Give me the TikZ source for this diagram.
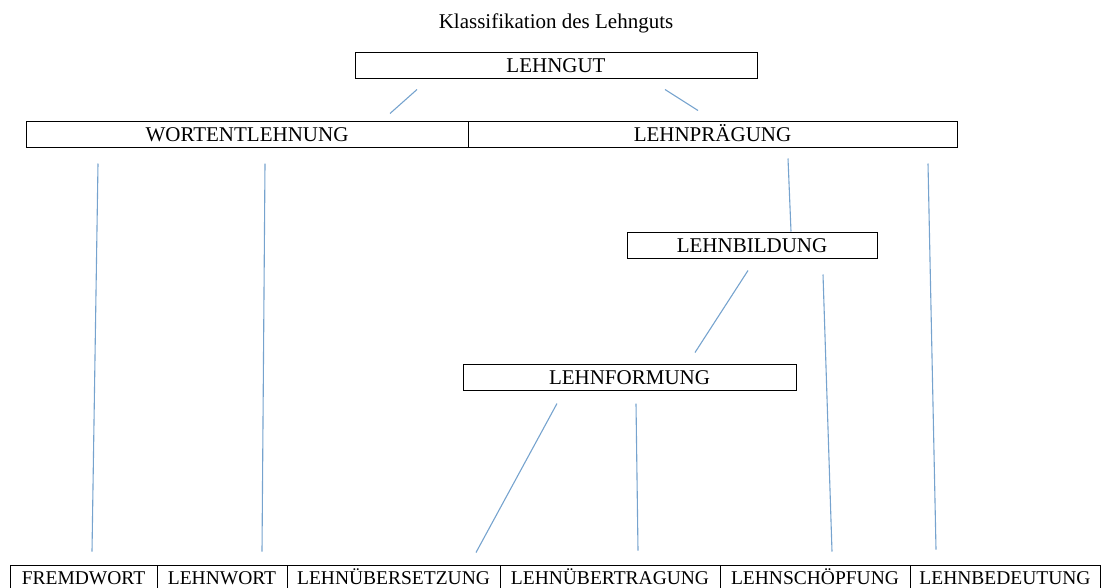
\documentclass[tikz,border=0pt]{standalone}
\usepackage{fontspec}
\setmainfont{Liberation Serif}
\usepackage{tikz}
\usepackage{xcolor}
\definecolor{linkblue}{RGB}{118,163,206}

\tikzset{
  box/.style={draw=black, line width=1pt, rectangle, inner sep=0pt,
    minimum height=26pt, text height=14pt, text depth=0pt,
    font=\fontsize{21}{24}\selectfont},
  cell/.style={box, text height=13pt, font=\fontsize{19.5}{22}\selectfont},
  link/.style={draw=linkblue, line width=1.1pt}
}

\begin{document}
\begin{tikzpicture}[x=1pt, y=-1pt]
        \useasboundingbox (0,0) rectangle (1105,587);
        % Title and upper levels
        \node[font=\fontsize{21}{24}\selectfont, text height=14pt, text depth=0pt, inner sep=0pt] (title) at (556,21) {Klassifikation des Lehnguts};
        \node[box, minimum width=402pt] (lehngut) at (556,65) {LEHNGUT};
        \node[box, minimum width=442pt] (wortentlehnung) at (247,134) {WORTENTLEHNUNG};
        \node[box, minimum width=489pt] (lehnpraegung) at (712.5,134) {LEHNPRÄGUNG};
        \node[box, minimum width=250pt] (lehnbildung) at (752,245) {LEHNBILDUNG};
        \node[box, minimum width=333pt] (lehnformung) at (629.5,377) {LEHNFORMUNG};
        % Bottom row
        \node[cell, minimum width=147pt] (fremdwort) at (83.5,578) {FREMDWORT};
        \node[cell, minimum width=130pt] (lehnwort) at (222,578) {LEHNWORT};
        \node[cell, minimum width=213pt] (lehnuebersetzung) at (393.5,578) {LEHNÜBERSETZUNG};
        \node[cell, minimum width=220pt] (lehnuebertragung) at (610,578) {LEHNÜBERTRAGUNG};
        \node[cell, minimum width=190pt] (lehnschoepfung) at (815,578) {LEHNSCHÖPFUNG};
        \node[cell, minimum width=190pt] (lehnbedeutung) at (1005,578) {LEHNBEDEUTUNG};
        % Connectors
        \draw[link] ([shift={(-139,11)}]lehngut.south) -- ([shift={(143,-7)}]wortentlehnung.north);
        \draw[link] ([shift={(109,11)}]lehngut.south) -- ([shift={(-14.5,-10)}]lehnpraegung.north);
        \draw[link] ([shift={(-149,16)}]wortentlehnung.south) -- ([shift={(8.5,-13)}]fremdwort.north);
        \draw[link] ([shift={(18,16)}]wortentlehnung.south) -- ([shift={(40,-13)}]lehnwort.north);
        \draw[link] ([shift={(75.5,11)}]lehnpraegung.south) -- ([shift={(39,0)}]lehnbildung.north);
        \draw[link] ([shift={(215.5,16)}]lehnpraegung.south) -- ([shift={(-69,-15)}]lehnbedeutung.north);
        \draw[link] ([shift={(-4,12)}]lehnbildung.south) -- ([shift={(65.5,-11)}]lehnformung.north);
        \draw[link] ([shift={(71,16)}]lehnbildung.south) -- ([shift={(17,-13)}]lehnschoepfung.north);
        \draw[link] ([shift={(-72.5,13)}]lehnformung.south) -- ([shift={(82.5,-12)}]lehnuebersetzung.north);
        \draw[link] ([shift={(6.5,13)}]lehnformung.south) -- ([shift={(28,-14)}]lehnuebertragung.north);
    \end{tikzpicture}
\end{document}
